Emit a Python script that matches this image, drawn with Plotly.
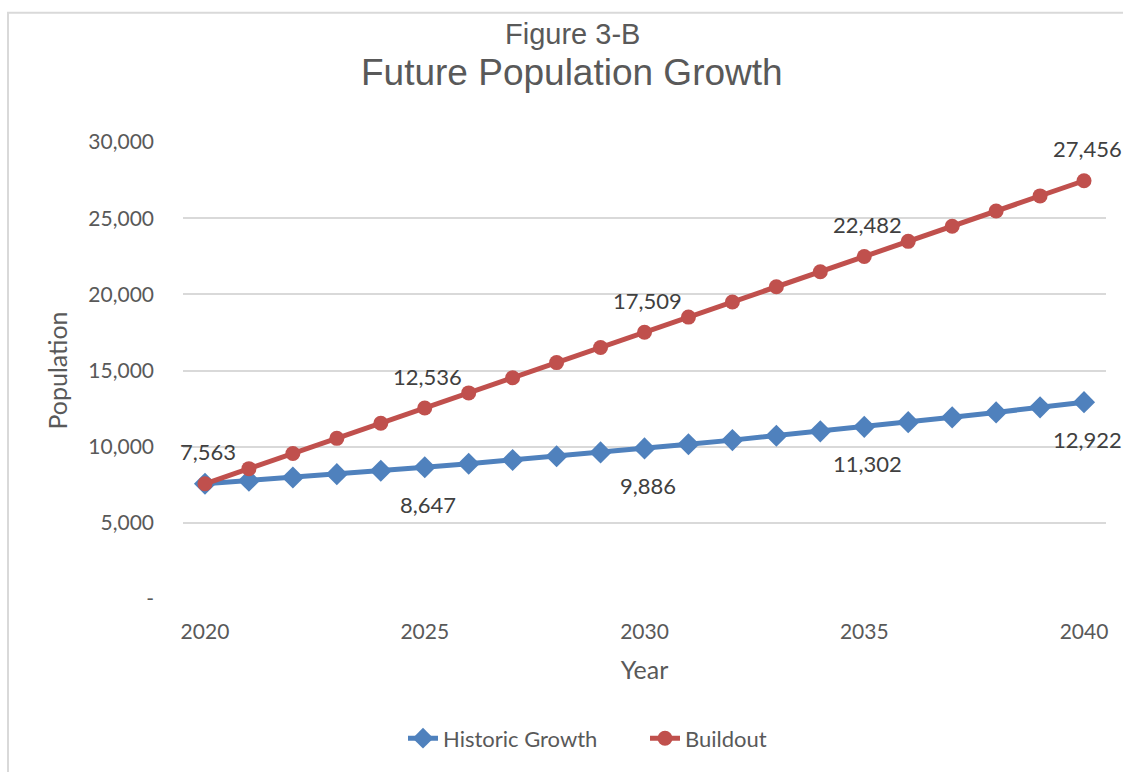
import plotly.graph_objects as go

years = list(range(2020, 2041))
historic = [7563, 7768, 7979, 8196, 8418, 8647, 8882, 9123, 9371, 9625, 9886,
            10154, 10430, 10713, 11004, 11302, 11609, 11924, 12248, 12580, 12922]
buildout = [7563, 8558, 9552, 10547, 11541, 12536, 13531, 14525, 15520, 16514, 17509,
            18504, 19498, 20493, 21487, 22482, 23477, 24472, 25466, 26461, 27456]
label_years = [2020, 2025, 2030, 2035, 2040]
y_ticks = [0, 5000, 10000, 15000, 20000, 25000, 30000]
y_tick_labels = ["-", "5,000", "10,000", "15,000", "20,000", "25,000", "30,000"]

BLUE = "#4f81bd"
RED = "#c0504d"
TXT = "#595959"
LBL = "#404040"
FONT = "Lato, Open Sans, sans-serif"
TFONT = "Liberation Sans, Arial, sans-serif"

fig = go.Figure()
fig.add_trace(go.Scatter(
    x=years, y=historic, name="Historic Growth", mode="lines+markers",
    line=dict(color=BLUE, width=5),
    marker=dict(symbol="diamond", size=17, color=BLUE), cliponaxis=False,
))
fig.add_trace(go.Scatter(
    x=years, y=buildout, name="Buildout", mode="lines+markers",
    line=dict(color=RED, width=5),
    marker=dict(symbol="circle", size=15, color=RED), cliponaxis=False,
))

# data labels
for yr, hv, bv in zip(years, historic, buildout):
    if yr not in label_years:
        continue
    fig.add_annotation(x=yr, y=bv, xref="x", yref="y", text=f"{bv:,}", showarrow=False,
                       yshift=32, xshift=3, xanchor="center", yanchor="middle",
                       font=dict(family=FONT, size=22, color=LBL))
    if yr != 2020:
        fig.add_annotation(x=yr, y=hv, xref="x", yref="y", text=f"{hv:,}", showarrow=False,
                           yshift=-37, xshift=3, xanchor="center", yanchor="middle",
                           font=dict(family=FONT, size=22, color=LBL))

fig.add_shape(type="rect", xref="paper", yref="paper",
              x0=-0.1896, x1=1.06, y0=-0.45, y1=1.283,
              line=dict(color="#d9d9d9", width=2), fillcolor="rgba(0,0,0,0)", layer="below")

fig.add_annotation(text="Figure 3-B", xref="paper", yref="paper",
                   x=(572 - 183) / 923, y=(601 - 34) / 459, showarrow=False,
                   xanchor="center", yanchor="middle",
                   font=dict(family=TFONT, size=29, color=TXT))
fig.add_annotation(text="Future Population Growth", xref="paper", yref="paper",
                   x=(572 - 183) / 923, y=(601 - 72) / 459, showarrow=False,
                   xanchor="center", yanchor="middle",
                   font=dict(family=TFONT, size=37, color=TXT))

fig.update_layout(
    width=1123, height=772,
    margin=dict(l=183, r=17, t=142, b=171),
    paper_bgcolor="white", plot_bgcolor="white",
    font=dict(family=FONT, color=TXT),
    showlegend=True,
    legend=dict(orientation="h", x=(383 - 183 + 20) / 923, xanchor="left",
                y=-0.305, yanchor="middle",
                entrywidth=197, entrywidthmode="pixels",
                font=dict(family=FONT, size=22, color=TXT),
                traceorder="normal"),
)
fig.update_xaxes(
    range=[2019.5, 2040.5], tickvals=label_years, ticktext=[str(v) for v in label_years],
    showgrid=False, zeroline=False, showline=False, ticks="", ticklabelstandoff=18,
    tickfont=dict(family=FONT, size=21, color=TXT),
    title=dict(text="Year", font=dict(family=FONT, size=25, color=TXT), standoff=19),
)
fig.update_yaxes(
    range=[0, 30000], tickvals=y_ticks, ticktext=y_tick_labels,
    showgrid=True, gridcolor="#d9d9d9", gridwidth=1.5, zeroline=False, showline=False,
    ticks="", ticklabelstandoff=28,
    tickfont=dict(family=FONT, size=21, color=TXT),
    title=dict(text="Population", font=dict(family=FONT, size=25, color=TXT), standoff=13),
)

fig.write_html("out.html", config={"displayModeBar": False},
               post_script="document.body.style.margin='0';")
